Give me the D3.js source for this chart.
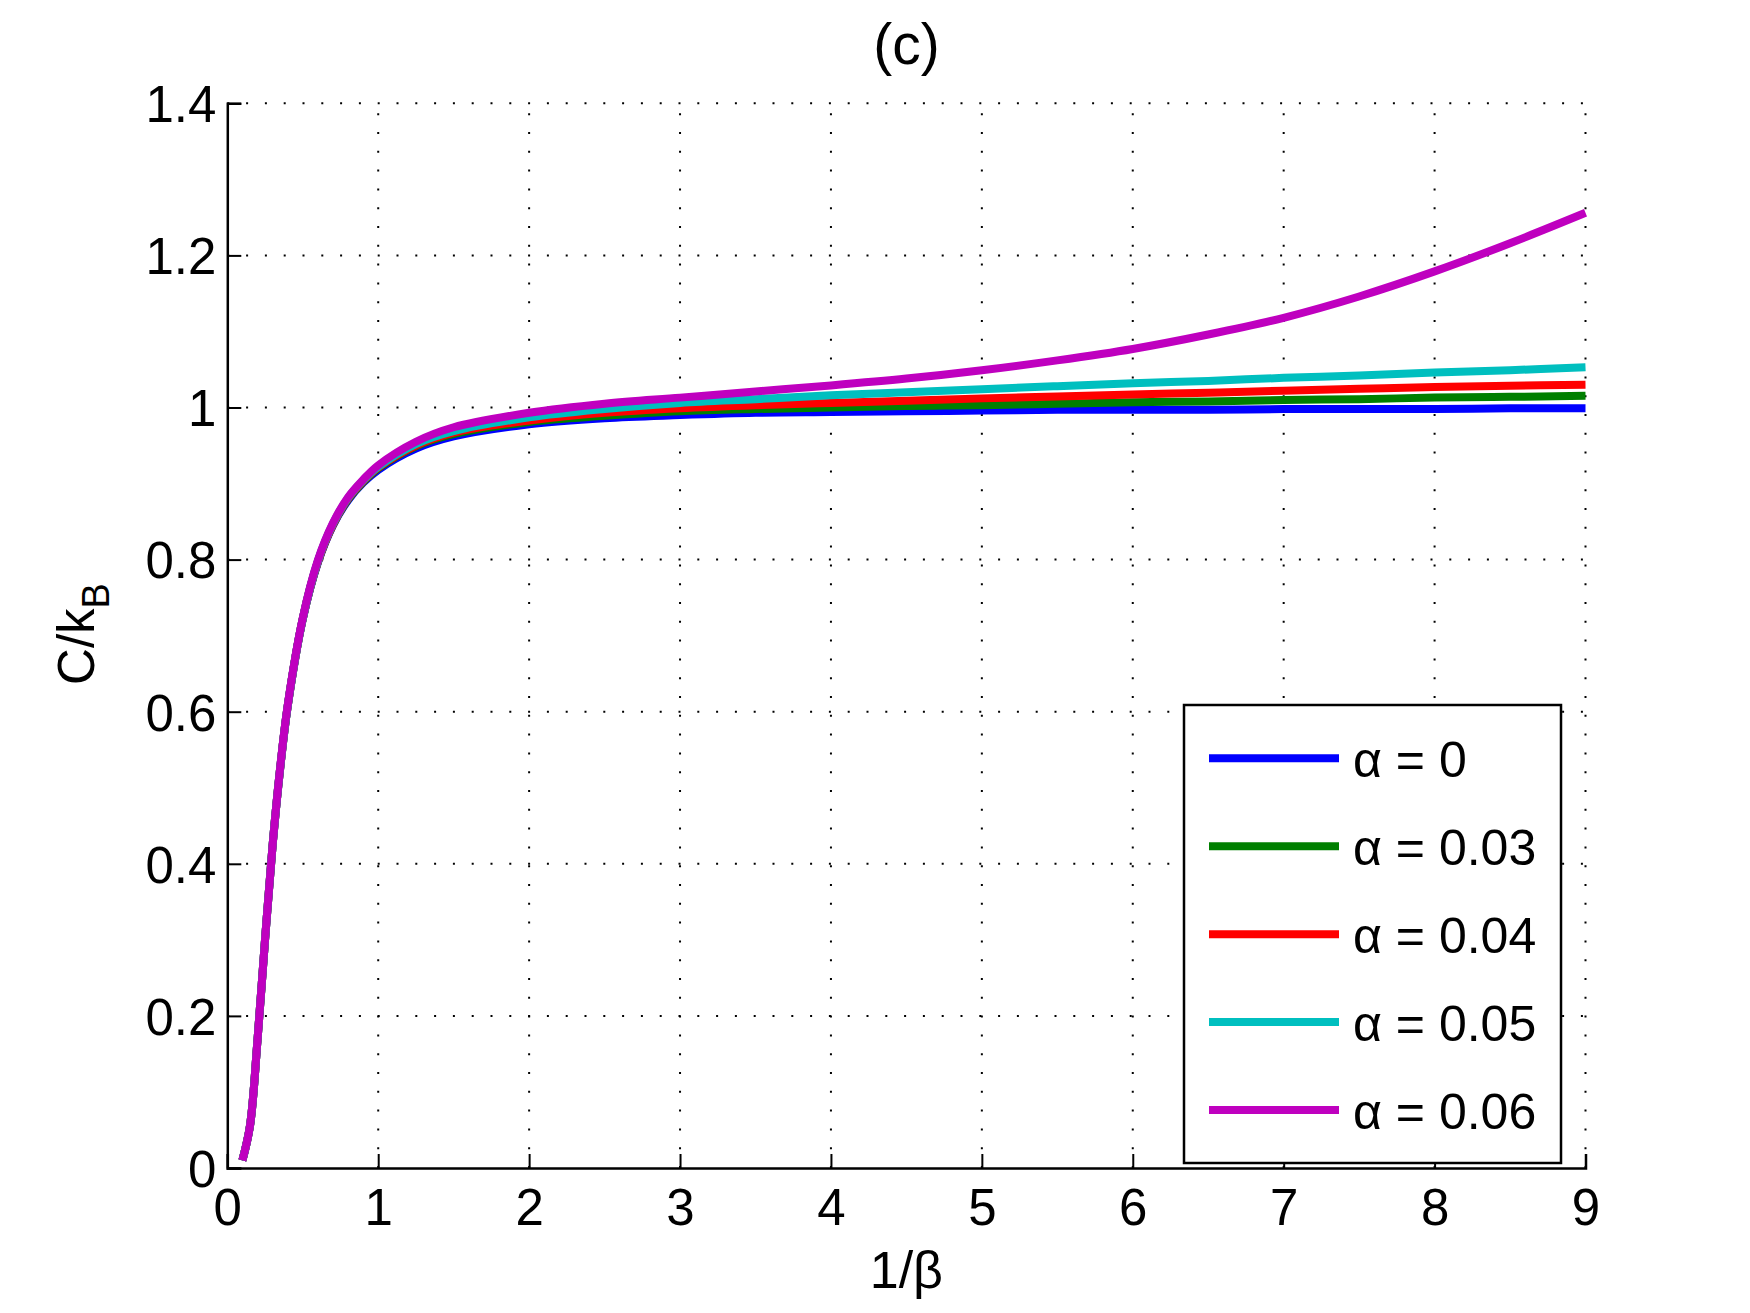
<!DOCTYPE html>
<html>
<head>
<meta charset="utf-8">
<script src="https://cdn.jsdelivr.net/npm/d3@7"></script>
<style>
    body { margin: 0; background: #fff; }
    svg { display: block; font-family: "Liberation Sans", Arial, Helvetica, sans-serif; }
    .grid line { stroke: #000; stroke-width: 2; stroke-dasharray: 2 16.8; }
</style>
</head>
<body>
<div id="chart"></div>
<script>
'use strict';

// Data
const temps = [0.1, 0.15, 0.2, 0.25, 0.3, 0.35, 0.4, 0.5, 0.6, 0.7, 0.8, 0.9, 1,
    1.25, 1.5, 2, 2.5, 3, 3.5, 4, 4.5, 5, 5.5, 6, 6.5, 7, 7.5, 8, 8.5, 9];

const alpha0 = [0.01, 0.055, 0.168, 0.3, 0.424, 0.525, 0.607, 0.722, 0.796, 0.845, 0.878, 0.901, 0.918,
    0.946, 0.962, 0.978, 0.986, 0.990, 0.993, 0.994, 0.995, 0.996, 0.997, 0.997, 0.997, 0.998, 0.998, 0.998, 0.999, 0.999];
const alpha003 = [0.01, 0.055, 0.168, 0.3, 0.424, 0.525, 0.607, 0.722, 0.797, 0.846, 0.879, 0.902, 0.920,
    0.949, 0.965, 0.981, 0.989, 0.995, 0.998, 1.000, 1.002, 1.003, 1.005, 1.007, 1.008, 1.010, 1.011, 1.013, 1.014, 1.0155];
const alpha004 = [0.01, 0.055, 0.168, 0.3, 0.424, 0.525, 0.607, 0.722, 0.797, 0.846, 0.880, 0.903, 0.921,
    0.950, 0.967, 0.983, 0.993, 0.999, 1.003, 1.006, 1.009, 1.012, 1.0145, 1.017, 1.0195, 1.022, 1.0245, 1.027, 1.0285, 1.030];
const alpha005 = [0.01, 0.055, 0.168, 0.3, 0.424, 0.525, 0.607, 0.722, 0.798, 0.847, 0.881, 0.904, 0.922,
    0.952, 0.969, 0.987, 0.998, 1.006, 1.011, 1.016, 1.020, 1.024, 1.028, 1.032, 1.035, 1.039, 1.042, 1.046, 1.049, 1.053];
const alpha006 = [0.01, 0.055, 0.168, 0.3, 0.424, 0.526, 0.608, 0.723, 0.799, 0.848, 0.882, 0.905, 0.924,
    0.955, 0.974, 0.993, 1.005, 1.013, 1.021, 1.029, 1.038, 1.049, 1.062, 1.077, 1.096, 1.118, 1.146, 1.179, 1.216, 1.256];

const seriesNames = ['α = 0', 'α = 0.03', 'α = 0.04', 'α = 0.05', 'α = 0.06'];
const seriesValues = [alpha0, alpha003, alpha004, alpha005, alpha006];
const seriesColors = ['#0000ff', '#007f00', '#ff0000', '#00bfbf', '#bf00bf'];

const xTicks = [0, 1, 2, 3, 4, 5, 6, 7, 8, 9];
const yTicks = [0, 0.2, 0.4, 0.6, 0.8, 1, 1.2, 1.4];

// Config
const w = 1750, h = 1313;
const margin = {top: 103.3, right: 1750 - 1585.5, bottom: 1313 - 1168, left: 227.3};
const gW = w - margin.left - margin.right;
const gH = h - margin.top - margin.bottom;

const svg = d3.select('#chart')
    .append('svg')
    .attr('width', w)
    .attr('height', h);

const g = svg.append('g')
    .attr('transform', `translate(${margin.left},${margin.top})`);

// Scales
const xScale = d3.scaleLinear().domain([0, 9]).range([0, gW]);
const yScale = d3.scaleLinear().domain([0, 1.4]).range([gH, 0]);

// Grid
const grid = g.append('g').attr('class', 'grid');
grid.selectAll('.vg')
    .data(xTicks.slice(1, -1))
    .join('line')
    .attr('x1', d => xScale(d)).attr('x2', d => xScale(d))
    .attr('y1', gH).attr('y2', 0);
grid.selectAll('.hg')
    .data(yTicks.slice(1, -1))
    .join('line')
    .attr('class', 'hg')
    .attr('x1', 0).attr('x2', gW)
    .attr('y1', d => yScale(d)).attr('y2', d => yScale(d));
// top and right grid rows (dotted along the box)
grid.append('line')
    .attr('x1', 0).attr('x2', gW).attr('y1', 0).attr('y2', 0);
grid.append('line')
    .attr('x1', gW).attr('x2', gW).attr('y1', gH).attr('y2', 0);

// Lines
const lineMaker = d3.line()
    .x((d, i) => xScale(temps[i]))
    .y(d => yScale(d))
    .curve(d3.curveCatmullRom.alpha(0.5));

g.selectAll('.series')
    .data(seriesValues)
    .join('path')
    .attr('class', 'series')
    .attr('d', d => lineMaker(d))
    .attr('fill', 'none')
    .attr('stroke', (d, i) => seriesColors[i])
    .attr('stroke-width', 8)
    .attr('stroke-linejoin', 'round');

// Axes (MATLAB-style: inward ticks on bottom and left)
const xAxis = g.append('g')
    .attr('transform', `translate(0,${gH})`)
    .call(d3.axisBottom(xScale).tickValues(xTicks).tickSize(-14).tickPadding(22).tickFormat(d3.format('d')));
const yAxis = g.append('g')
    .call(d3.axisLeft(yScale).tickValues(yTicks).tickSize(-14).tickPadding(11).tickFormat(d => d === 0 || d === 1 ? d3.format('d')(d) : d3.format('.1f')(d)));

[xAxis, yAxis].forEach(ax => {
    ax.select('.domain').attr('stroke', '#000').attr('stroke-width', 2.5);
    ax.selectAll('.tick line').attr('stroke', '#000').attr('stroke-width', 2);
    ax.selectAll('.tick text')
        .attr('fill', '#000')
        .style('font-size', '51px')
        .style('font-family', '"Liberation Sans", Arial, sans-serif');
});
xAxis.selectAll('.tick text').attr('dy', '0.68em');
yAxis.selectAll('.tick text').attr('dy', '0.36em');

// Title
svg.append('text')
    .attr('x', margin.left + gW / 2)
    .attr('y', 64)
    .attr('text-anchor', 'middle')
    .style('font-size', '57px')
    .text('(c)');

// X label
svg.append('text')
    .attr('x', margin.left + gW / 2)
    .attr('y', 1288)
    .attr('text-anchor', 'middle')
    .style('font-size', '52px')
    .text('1/β');

// Y label
const yLab = svg.append('text')
    .attr('transform', 'translate(94,634) rotate(-90)')
    .attr('text-anchor', 'middle')
    .style('font-size', '51px');
yLab.append('tspan').text('C/k');
yLab.append('tspan').attr('dy', 15).style('font-size', '38px').text('B');

// Legend
const legend = svg.append('g').attr('class', 'legend');
legend.append('rect')
    .attr('x', 1184).attr('y', 705)
    .attr('width', 1561 - 1184).attr('height', 1163 - 705)
    .attr('fill', '#fff')
    .attr('stroke', '#000')
    .attr('stroke-width', 2.5);

const legendY = d3.scalePoint().domain(seriesNames).range([758.3, 1110]);
const item = legend.selectAll('.item')
    .data(seriesNames)
    .join('g')
    .attr('class', 'item')
    .attr('transform', d => `translate(0,${legendY(d)})`);
item.append('line')
    .attr('x1', 1209).attr('x2', 1339)
    .attr('stroke', (d, i) => seriesColors[i])
    .attr('stroke-width', 8);
item.append('text')
    .attr('x', 1353)
    .attr('dy', '0.38em')
    .style('font-size', '50px')
    .text(d => d);
</script>
</body>
</html>
